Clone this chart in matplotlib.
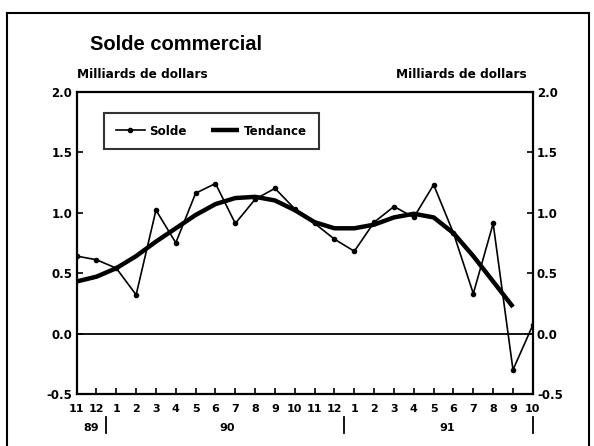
import numpy as np
import matplotlib as mpl

mpl.use('Agg')
import matplotlib.pyplot as plt
from matplotlib.lines import Line2D
import matplotlib.transforms as mtransforms

plt.rcParams['font.family'] = ['DejaVu Sans']
plt.rcParams['font.weight'] = 'bold'

# donnees (nov. 1989 - oct. 1991)
mois = ['11', '12', '1', '2', '3', '4', '5', '6', '7', '8', '9', '10', '11', '12',
        '1', '2', '3', '4', '5', '6', '7', '8', '9', '10']
solde = [0.64, 0.61, 0.54, 0.32, 1.02, 0.75, 1.16, 1.24, 0.91, 1.11, 1.20, 1.03,
         0.91, 0.78, 0.68, 0.92, 1.05, 0.96, 1.23, 0.83, 0.33, 0.91, -0.30, 0.07]
tendance = [0.43, 0.47, 0.54, 0.64, 0.76, 0.87, 0.98, 1.07, 1.12, 1.13, 1.10, 1.02,
            0.92, 0.87, 0.87, 0.90, 0.96, 0.99, 0.96, 0.83, 0.64, 0.43, 0.22]
annees = ['89', '90', '91']
annee_pos = [0.75, 7.6, 18.7]
separateurs = [1.5, 13.5, 23]
yticks = [-0.5, 0.0, 0.5, 1.0, 1.5, 2.0]

fig = plt.figure(figsize=(5.94, 4.46), dpi=100)

# cadre de la page
for xs, ys in [([0.012, 0.012], [0.0, 0.971]), ([0.012, 0.992], [0.971, 0.971]),
               ([0.992, 0.992], [0.971, 0.0])]:
    fig.add_artist(Line2D(xs, ys, color='black', lw=1.5, transform=fig.transFigure))

ax = fig.add_axes([0.129, 0.1166, 0.768, 0.678])
x = np.arange(len(mois))

ax.axhline(0, color='black', lw=1.3)
ax.plot(x, solde, color='black', lw=1.2, marker='o', markersize=3, label='Solde')
ax.plot(x[:len(tendance)], tendance, color='black', lw=3.2, solid_capstyle='butt',
        label='Tendance')

ax.set_xlim(0, len(mois) - 1)
ax.set_ylim(-0.5, 2.0)
ax.set_xticks(x)
ax.set_xticklabels(mois, fontsize=8, fontweight='bold')
ax.set_yticks(yticks)
ax.set_yticklabels([f'{v:.1f}' for v in yticks], fontsize=8.5, fontweight='bold')
ax.tick_params(axis='x', direction='in', length=4, width=1.2, pad=7)
ax.tick_params(axis='y', direction='in', length=4, width=1.2, pad=3,
               left=True, right=True, labelleft=True, labelright=True)
for s in ax.spines.values():
    s.set_linewidth(1.6)

# annees et separateurs sous l'axe
trans = mtransforms.blended_transform_factory(ax.transData, ax.transAxes)
for a, p in zip(annees, annee_pos):
    ax.text(p, -0.112, a, transform=trans, ha='center', va='center', fontsize=8,
            fontweight='bold')
for p in separateurs:
    ax.add_line(Line2D([p, p], [-0.075, -0.128], color='black', lw=1.3,
                       transform=trans, clip_on=False))

leg = ax.legend(loc='upper left', bbox_to_anchor=(0.048, 0.948), ncol=2, frameon=True,
                fancybox=False, edgecolor='black', fontsize=8.6, handlelength=2.4,
                columnspacing=2.0, borderpad=0.95, handletextpad=0.4)
leg.get_frame().set_linewidth(1.5)

fig.text(0.152, 0.9, 'Solde commercial', fontsize=14.5, fontweight='bold', va='center',
         family='Liberation Sans')
fig.text(0.13, 0.834, 'Milliards de dollars', fontsize=8.7, fontweight='bold', va='center')
fig.text(0.886, 0.834, 'Milliards de dollars', fontsize=8.7, fontweight='bold',
         va='center', ha='right')

fig.savefig('out.png', dpi=100)
